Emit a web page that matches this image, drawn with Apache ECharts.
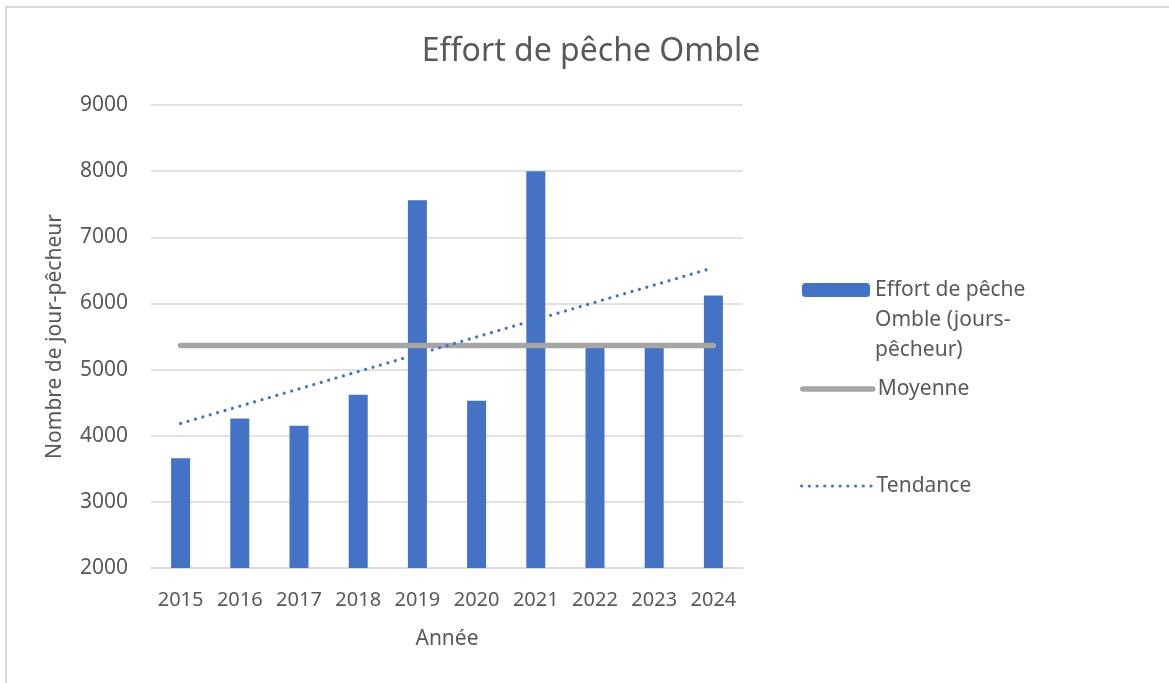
<!DOCTYPE html>
<html lang="fr">
<head>
    <meta charset="utf-8">
    <title>Effort de pêche Omble</title>
    <style>
        html, body { margin: 0; padding: 0; background: #fff; }
        .scoped { position: relative; width: 1169px; height: 683px; overflow: hidden; }
        .scoped-frame { position: absolute; left: 5px; top: 6px; right: -10px; bottom: -10px;
            border-top: 2px solid #d9d9d9; border-left: 2px solid #d9d9d9; pointer-events: none; }
        .scoped-charts { width: 1169px; height: 683px; }
    </style>
    <script src="https://cdn.jsdelivr.net/npm/echarts@6/dist/echarts.min.js"></script>
</head>
<body>
    <div class="scoped">
        <div class="scoped-charts"></div>
        <div class="scoped-frame"></div>
    </div>
    <script>
        // données
        const annees = ['2015', '2016', '2017', '2018', '2019', '2020', '2021', '2022', '2023', '2024'];
        const effort = [3660, 4260, 4150, 4620, 7560, 4530, 8000, 5370, 5380, 6120];
        const moyenne = [5365, 5365, 5365, 5365, 5365, 5365, 5365, 5365, 5365, 5365];
        // tendance : seulement les deux extrémités, relues sur la courbe
        const tendance = [4185, null, null, null, null, null, null, null, null, 6540];

        const nomEffort = 'Effort de pêche Omble (jours-pêcheur)';
        const gris = '#595959';
        const police = 'Noto Sans';

        const myChart = echarts.init(document.querySelector('.scoped-charts'));

        const legendText = {
            color: gris,
            fontFamily: police,
            fontSize: 21,
            lineHeight: 30
        };

        const option = {
            animation: false,
            title: {
                text: 'Effort de pêche Omble',
                left: 586,
                top: 31,
                textAlign: 'center',
                textStyle: {
                    color: gris,
                    fontFamily: police,
                    fontSize: 32,
                    fontWeight: 'normal'
                }
            },
            grid: {
                left: 151,
                right: 426,
                top: 105,
                bottom: 115,
                containLabel: false
            },
            legend: [{
                data: [nomEffort],
                left: 802,
                top: 215,
                padding: 0,
                itemWidth: 68,
                itemHeight: 14,
                // deux lignes vides pour caler la 1re ligne sur le rectangle
                formatter: () => '\n\nEffort de pêche\nOmble (jours-\npêcheur)',
                textStyle: legendText
            }, {
                data: ['Moyenne'],
                left: 800,
                top: 374,
                padding: 0,
                itemWidth: 70,
                itemHeight: 14,
                itemStyle: { opacity: 0 },
                lineStyle: { width: 5.5, cap: 'round' },
                textStyle: legendText
            }, {
                data: ['Tendance'],
                left: 800,
                top: 471,
                padding: 0,
                itemWidth: 70,
                itemHeight: 14,
                itemStyle: { opacity: 0 },
                lineStyle: { width: 3.2, cap: 'round' },
                textStyle: legendText
            }],
            xAxis: {
                type: 'category',
                data: annees,
                name: 'Année',
                nameLocation: 'middle',
                nameGap: 61,
                nameTextStyle: {
                    color: gris,
                    fontFamily: police,
                    fontSize: 21
                },
                axisLine: {
                    lineStyle: { color: '#d9d9d9', width: 1.5 }
                },
                axisTick: { show: false },
                axisLabel: {
                    interval: 0,
                    color: gris,
                    fontFamily: police,
                    fontSize: 20,
                    margin: 22
                }
            },
            yAxis: {
                type: 'value',
                min: 2000,
                max: 9000,
                interval: 1000,
                name: 'Nombre de jour-pêcheur',
                nameLocation: 'middle',
                nameGap: 85,
                nameTextStyle: {
                    color: gris,
                    fontFamily: police,
                    fontSize: 21
                },
                axisLine: { show: false },
                axisTick: { show: false },
                axisLabel: {
                    color: gris,
                    fontFamily: police,
                    fontSize: 21,
                    margin: 23,
                    formatter: (v) => String(v)
                },
                splitLine: {
                    lineStyle: { color: '#d9d9d9', width: 1.5 }
                }
            },
            series: [{
                name: nomEffort,
                type: 'bar',
                data: effort,
                barWidth: 19,
                itemStyle: { color: '#4472c4' },
                z: 1
            }, {
                name: 'Moyenne',
                type: 'line',
                data: moyenne,
                symbol: 'none',
                lineStyle: {
                    color: '#a5a5a5',
                    width: 5.5,
                    cap: 'round'
                },
                itemStyle: { color: '#a5a5a5' },
                z: 3
            }, {
                name: 'Tendance',
                type: 'line',
                data: tendance,
                connectNulls: true,
                symbol: 'none',
                lineStyle: {
                    color: '#4472c4',
                    width: 3.2,
                    type: [0.01, 7.7],
                    cap: 'round'
                },
                itemStyle: { color: '#4472c4' },
                z: 4
            }]
        };

        myChart.setOption(option);
        window.onresize = () => {
            myChart.resize();
        };
    </script>
</body>
</html>
